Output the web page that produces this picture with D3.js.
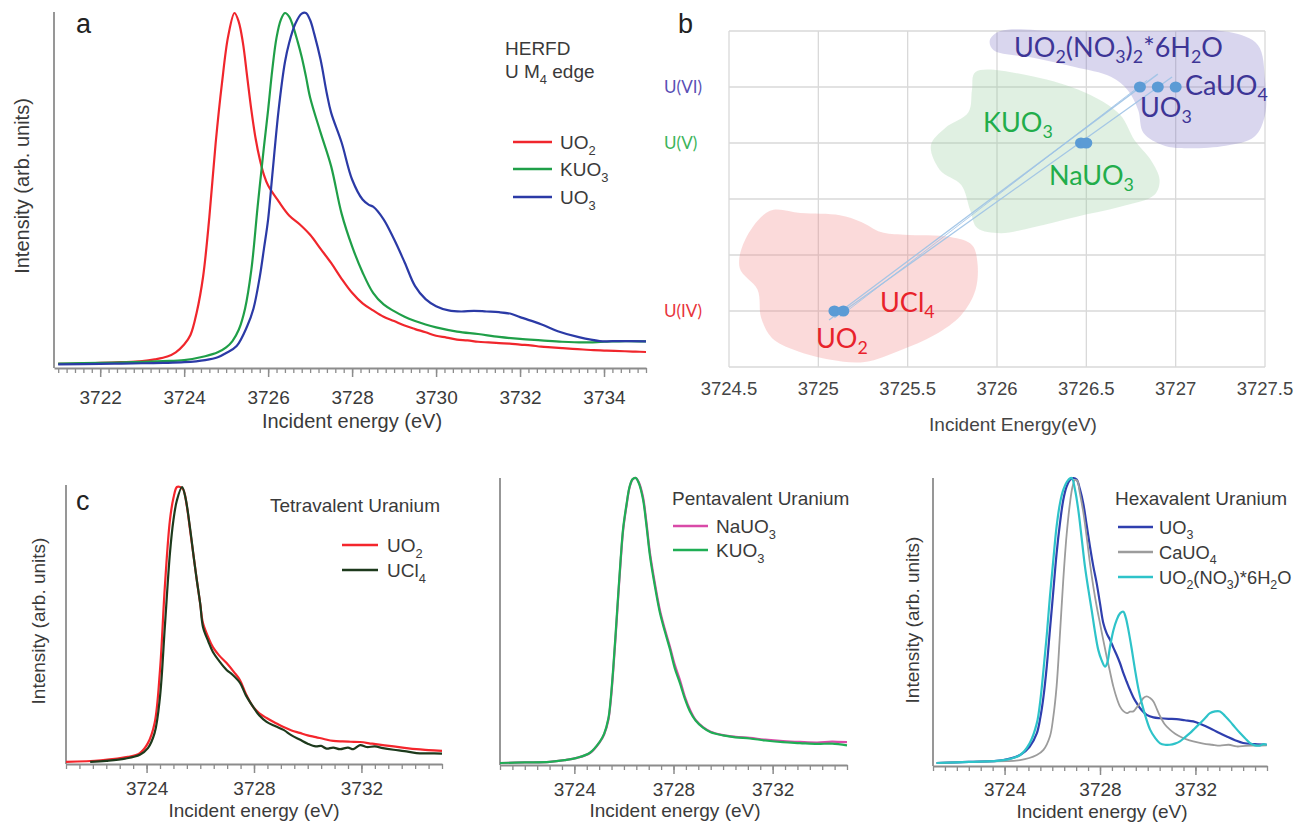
<!DOCTYPE html>
<html><head><meta charset="utf-8">
<script src="https://cdnjs.cloudflare.com/ajax/libs/d3/7.8.5/d3.min.js"></script>
<style>
body{margin:0;background:#fff}
svg{display:block}
text{font-family:"Liberation Sans",Arial,sans-serif}
</style>
</head><body><script>
// ---------- Panel a: HERFD U M4 edge spectra (energy eV, normalised intensity) ----------
const aUO2 = [[3721.0,0.003],[3721.5,0.004],[3722.0,0.006],[3722.5,0.008],[3723.0,0.011],[3723.3,0.016],[3723.6,0.024],[3723.8,0.036],[3724.0,0.058],[3724.15,0.085],[3724.3,0.15],[3724.45,0.25],[3724.6,0.42],[3724.75,0.63],[3724.9,0.8],[3725.05,0.935],[3725.2,1.0],[3725.3,0.975],[3725.4,0.915],[3725.5,0.82],[3725.6,0.725],[3725.7,0.645],[3725.8,0.585],[3725.9,0.54],[3726.0,0.51],[3726.25,0.465],[3726.5,0.425],[3726.75,0.4],[3727.0,0.37],[3727.25,0.33],[3727.5,0.29],[3727.75,0.245],[3728.0,0.205],[3728.25,0.175],[3728.5,0.155],[3728.75,0.137],[3729.0,0.125],[3729.25,0.112],[3729.5,0.102],[3729.75,0.093],[3730.0,0.083],[3730.25,0.078],[3730.5,0.072],[3730.75,0.07],[3731.0,0.066],[3731.25,0.064],[3731.5,0.062],[3731.75,0.061],[3732.0,0.058],[3732.25,0.056],[3732.5,0.052],[3732.75,0.05],[3733.0,0.048],[3733.25,0.046],[3733.5,0.044],[3733.75,0.042],[3734.0,0.041],[3734.25,0.04],[3734.5,0.039],[3734.75,0.038],[3735.0,0.037]];
const aKUO3 = [[3721.0,0.004],[3722.0,0.006],[3723.0,0.009],[3723.5,0.011],[3724.0,0.014],[3724.5,0.025],[3724.8,0.036],[3725.0,0.05],[3725.15,0.068],[3725.3,0.1],[3725.45,0.16],[3725.6,0.27],[3725.75,0.45],[3725.9,0.62],[3726.0,0.725],[3726.1,0.84],[3726.2,0.93],[3726.3,0.98],[3726.4,1.0],[3726.5,0.99],[3726.6,0.96],[3726.7,0.92],[3726.8,0.875],[3726.9,0.82],[3727.0,0.76],[3727.25,0.66],[3727.5,0.565],[3727.75,0.43],[3728.0,0.337],[3728.25,0.263],[3728.5,0.205],[3728.75,0.172],[3729.0,0.153],[3729.25,0.137],[3729.5,0.125],[3729.75,0.115],[3730.0,0.107],[3730.5,0.095],[3731.0,0.088],[3731.5,0.08],[3732.0,0.074],[3732.5,0.07],[3733.0,0.066],[3733.5,0.064],[3734.0,0.066],[3734.5,0.068],[3735.0,0.067]];
const aUO3 = [[3721.0,0.002],[3722.0,0.003],[3722.5,0.004],[3723.0,0.005],[3723.5,0.006],[3724.0,0.008],[3724.5,0.014],[3724.8,0.022],[3725.0,0.034],[3725.25,0.054],[3725.5,0.11],[3725.65,0.16],[3725.8,0.25],[3725.9,0.33],[3726.0,0.414],[3726.1,0.54],[3726.25,0.725],[3726.4,0.86],[3726.5,0.915],[3726.65,0.97],[3726.8,0.998],[3726.9,1.0],[3727.0,0.98],[3727.1,0.94],[3727.25,0.867],[3727.4,0.77],[3727.5,0.717],[3727.75,0.632],[3728.0,0.527],[3728.25,0.47],[3728.4,0.455],[3728.5,0.45],[3728.75,0.414],[3729.0,0.357],[3729.25,0.292],[3729.5,0.224],[3729.75,0.187],[3730.0,0.167],[3730.3,0.155],[3730.6,0.152],[3730.9,0.154],[3731.2,0.152],[3731.5,0.15],[3731.8,0.145],[3732.0,0.136],[3732.5,0.116],[3732.9,0.096],[3733.4,0.079],[3733.9,0.068],[3734.4,0.068],[3735.0,0.067]];
const aLegend = ["UO_2","KUO_3","UO_3"];
const aTicks = [3722,3724,3726,3728,3730,3732,3734];

// ---------- Panel b: edge position vs oxidation state ----------
const bCompounds = ["UO_2","UCl_4","NaUO_3","KUO_3","UO_2(NO_3)_2*6H_2O","UO_3","CaUO_4"];
const bEnergy = [3725.09,3725.14,3726.47,3726.5,3726.8,3726.9,3727.0];
const bLevel = [1,1,4,4,5,5,5];
const bLevelTicks = [1,4,5];
const bLevelNames = ["U(IV)","U(V)","U(VI)"];
const bEnergyTicks = [3724.5,3725,3725.5,3726,3726.5,3727,3727.5];
// fitted trend lines: [startEnergy, startLevel, endEnergy, endLevel]
const bTrends = [[3725.06,0.84,3726.9,5.23],[3725.09,0.88,3726.98,5.18],[3725.12,0.9,3726.84,5.12]];
// shaded groupings (energy, level outline)
const bRegionVI = [[3725.96,5.84],[3726.02,6.0],[3726.35,6.0],[3726.86,6.0],[3727.3,5.98],[3727.46,5.75],[3727.5,5.13],[3727.5,4.5],[3727.44,4.11],[3727.28,3.95],[3727.02,3.91],[3726.93,3.96],[3726.82,4.18],[3726.79,4.59],[3726.73,4.95],[3726.64,5.18],[3726.43,5.36],[3726.21,5.52],[3725.98,5.66]];
const bRegionV = [[3725.88,5.27],[3726.24,5.16],[3726.52,4.86],[3726.69,4.5],[3726.77,4.05],[3726.86,3.7],[3726.91,3.34],[3726.88,3.07],[3726.69,2.86],[3726.44,2.68],[3726.21,2.5],[3726.02,2.39],[3725.89,2.48],[3725.85,2.8],[3725.8,3.25],[3725.68,3.52],[3725.63,3.96],[3725.71,4.27],[3725.84,4.55],[3725.86,4.95]];
const bRegionIV = [[3724.73,2.79],[3724.9,2.75],[3725.12,2.71],[3725.24,2.59],[3725.35,2.41],[3725.48,2.36],[3725.74,2.32],[3725.86,2.18],[3725.89,1.88],[3725.88,1.38],[3725.8,0.93],[3725.65,0.57],[3725.46,0.3],[3725.26,0.09],[3725.07,0.13],[3724.87,0.3],[3724.74,0.52],[3724.68,0.88],[3724.66,1.38],[3724.56,1.77],[3724.59,2.27]];

// ---------- Panel c: spectra grouped by valence ----------
const cTicks = [3724,3728,3732];
const c1UO2 = [[3721.0,0.004],[3722.3,0.01],[3723.3,0.022],[3723.75,0.036],[3724.05,0.072],[3724.3,0.145],[3724.5,0.337],[3724.68,0.638],[3724.87,0.88],[3725.0,0.96],[3725.13,1.0],[3725.25,1.0],[3725.37,0.99],[3725.5,0.93],[3725.62,0.844],[3725.75,0.75],[3725.87,0.663],[3726.0,0.575],[3726.1,0.507],[3726.3,0.455],[3726.47,0.42],[3726.7,0.39],[3726.98,0.362],[3727.25,0.33],[3727.48,0.3],[3727.7,0.25],[3727.97,0.203],[3728.2,0.18],[3728.47,0.163],[3728.8,0.145],[3729.1,0.13],[3729.4,0.118],[3729.7,0.109],[3730.0,0.1],[3730.3,0.094],[3730.6,0.087],[3730.95,0.08],[3731.3,0.078],[3731.6,0.077],[3731.95,0.076],[3732.4,0.07],[3732.8,0.065],[3733.2,0.06],[3733.6,0.055],[3734.05,0.05],[3734.5,0.047],[3735.0,0.044]];
const c1UCl4 = [[3721.9,0.004],[3722.5,0.008],[3723.2,0.016],[3723.75,0.03],[3724.05,0.054],[3724.3,0.109],[3724.5,0.24],[3724.68,0.493],[3724.87,0.76],[3725.0,0.88],[3725.13,0.952],[3725.32,1.0],[3725.45,0.96],[3725.62,0.85],[3725.75,0.75],[3725.87,0.663],[3726.0,0.575],[3726.1,0.493],[3726.3,0.44],[3726.47,0.402],[3726.7,0.37],[3726.98,0.337],[3727.2,0.32],[3727.48,0.29],[3727.7,0.245],[3727.97,0.203],[3728.2,0.172],[3728.47,0.149],[3728.8,0.133],[3729.1,0.12],[3729.4,0.1],[3729.7,0.085],[3730.0,0.07],[3730.3,0.06],[3730.5,0.062],[3730.7,0.052],[3730.95,0.056],[3731.2,0.05],[3731.5,0.056],[3731.7,0.05],[3731.95,0.065],[3732.2,0.058],[3732.5,0.06],[3732.8,0.054],[3733.2,0.048],[3733.6,0.043],[3734.05,0.036],[3734.5,0.035],[3735.0,0.034]];
const c2NaUO3 = [[3721.0,0.0],[3722.0,0.002],[3723.0,0.004],[3723.6,0.01],[3724.1,0.018],[3724.63,0.035],[3725.03,0.074],[3725.2,0.1],[3725.37,0.15],[3725.47,0.22],[3725.57,0.326],[3725.67,0.45],[3725.77,0.583],[3725.87,0.71],[3725.97,0.818],[3726.1,0.9],[3726.23,0.968],[3726.35,0.995],[3726.48,1.0],[3726.6,0.985],[3726.77,0.933],[3726.9,0.85],[3727.05,0.737],[3727.25,0.63],[3727.45,0.537],[3727.65,0.47],[3727.86,0.407],[3728.05,0.345],[3728.26,0.291],[3728.45,0.235],[3728.67,0.186],[3728.9,0.15],[3729.19,0.126],[3729.5,0.11],[3730.0,0.098],[3730.5,0.092],[3731.08,0.088],[3731.7,0.082],[3732.42,0.077],[3733.1,0.074],[3733.8,0.072],[3734.4,0.075],[3735.0,0.073]];
const c2KUO3 = [[3721.0,0.0],[3722.0,0.002],[3723.0,0.004],[3723.6,0.01],[3724.1,0.018],[3724.63,0.036],[3725.03,0.075],[3725.2,0.102],[3725.37,0.155],[3725.47,0.228],[3725.57,0.335],[3725.67,0.46],[3725.77,0.592],[3725.87,0.718],[3725.97,0.825],[3726.1,0.905],[3726.23,0.97],[3726.35,0.996],[3726.48,1.0],[3726.6,0.982],[3726.77,0.925],[3726.9,0.84],[3727.05,0.727],[3727.25,0.62],[3727.45,0.528],[3727.65,0.462],[3727.86,0.398],[3728.05,0.333],[3728.26,0.28],[3728.45,0.228],[3728.67,0.18],[3728.9,0.148],[3729.19,0.124],[3729.5,0.108],[3730.0,0.097],[3730.5,0.09],[3731.08,0.086],[3731.7,0.079],[3732.42,0.073],[3733.1,0.07],[3733.8,0.067],[3734.4,0.068],[3735.0,0.062]];
const c3UO3 = [[3721.15,0.0],[3722.5,0.004],[3723.95,0.01],[3724.65,0.028],[3725.05,0.057],[3725.35,0.104],[3725.5,0.16],[3725.63,0.232],[3725.77,0.34],[3725.9,0.466],[3726.04,0.6],[3726.18,0.735],[3726.32,0.84],[3726.46,0.923],[3726.6,0.97],[3726.74,0.993],[3726.88,1.0],[3727.02,0.995],[3727.16,0.96],[3727.3,0.91],[3727.44,0.835],[3727.58,0.759],[3727.72,0.69],[3727.86,0.631],[3728.0,0.56],[3728.14,0.49],[3728.28,0.455],[3728.42,0.432],[3728.56,0.405],[3728.7,0.379],[3728.84,0.35],[3728.98,0.315],[3729.12,0.285],[3729.26,0.256],[3729.4,0.23],[3729.54,0.21],[3729.75,0.185],[3729.96,0.169],[3730.24,0.16],[3730.52,0.157],[3730.87,0.155],[3731.21,0.154],[3731.56,0.15],[3731.91,0.146],[3732.26,0.135],[3732.61,0.122],[3732.96,0.107],[3733.31,0.093],[3733.66,0.08],[3734.0,0.07],[3734.5,0.066],[3734.99,0.064]];
const c3CaUO4 = [[3721.15,0.0],[3723.0,0.005],[3724.65,0.01],[3725.35,0.028],[3725.63,0.046],[3725.9,0.093],[3726.04,0.16],[3726.18,0.268],[3726.32,0.45],[3726.46,0.642],[3726.6,0.8],[3726.74,0.911],[3726.85,0.97],[3726.95,0.993],[3727.05,0.99],[3727.15,0.95],[3727.3,0.88],[3727.44,0.794],[3727.58,0.7],[3727.72,0.619],[3727.86,0.55],[3728.0,0.49],[3728.14,0.43],[3728.28,0.373],[3728.42,0.32],[3728.56,0.268],[3728.7,0.228],[3728.84,0.198],[3728.98,0.182],[3729.12,0.175],[3729.26,0.18],[3729.4,0.181],[3729.54,0.195],[3729.68,0.21],[3729.82,0.228],[3729.96,0.234],[3730.1,0.228],[3730.24,0.216],[3730.38,0.19],[3730.52,0.164],[3730.72,0.135],[3730.93,0.117],[3731.15,0.103],[3731.35,0.093],[3731.63,0.083],[3731.91,0.076],[3732.33,0.068],[3732.7,0.064],[3733.03,0.061],[3733.4,0.064],[3733.73,0.058],[3734.1,0.06],[3734.5,0.061],[3734.99,0.062]];
const c3UO2NO3 = [[3721.15,0.0],[3722.5,0.004],[3723.95,0.01],[3724.65,0.028],[3725.05,0.069],[3725.35,0.139],[3725.5,0.22],[3725.63,0.326],[3725.77,0.45],[3725.9,0.583],[3726.04,0.71],[3726.18,0.829],[3726.32,0.91],[3726.46,0.958],[3726.64,0.99],[3726.81,1.0],[3726.95,0.96],[3727.09,0.888],[3727.23,0.79],[3727.37,0.689],[3727.51,0.61],[3727.65,0.537],[3727.79,0.46],[3727.93,0.396],[3728.07,0.36],[3728.21,0.338],[3728.3,0.35],[3728.42,0.408],[3728.56,0.465],[3728.7,0.502],[3728.84,0.525],[3728.98,0.531],[3729.08,0.51],[3729.19,0.467],[3729.33,0.4],[3729.47,0.326],[3729.61,0.26],[3729.75,0.21],[3729.92,0.16],[3730.1,0.117],[3730.31,0.088],[3730.52,0.069],[3730.72,0.064],[3730.93,0.064],[3731.14,0.068],[3731.35,0.076],[3731.56,0.09],[3731.77,0.105],[3731.98,0.122],[3732.19,0.139],[3732.4,0.157],[3732.61,0.175],[3732.82,0.181],[3733.03,0.181],[3733.24,0.165],[3733.45,0.146],[3733.66,0.125],[3733.87,0.105],[3734.08,0.087],[3734.29,0.07],[3734.5,0.062],[3734.7,0.061],[3734.85,0.066],[3734.99,0.064]];

const INK = "#3a3a3a", AXIS = "#8c8c8c";
const svg = d3.select("body").append("svg").attr("width",1296).attr("height",824);

// chemical formula text: "_x" marks a subscript character
function rich(t, s, fs, sub=0.68, drop=0.3){
  const sh = fs*drop; let i = 0, low = false;
  while(i < s.length){
    if(s[i] === "_"){
      t.append("tspan").attr("font-size", fs*sub).attr("dy", low ? 0 : sh).text(s[i+1]);
      low = true; i += 2;
    } else {
      let j = i; while(j < s.length && s[j] !== "_") j++;
      t.append("tspan").attr("dy", low ? -sh : 0).text(s.slice(i,j));
      low = false; i = j;
    }
  }
  return t;
}
function label(g, x, y, s, fs, opts={}){
  const t = g.append("text").attr("x",x).attr("y",y).attr("font-size",fs)
    .attr("fill",opts.fill||INK).attr("text-anchor",opts.anchor||"start");
  if(opts.family) t.style("font-family", opts.family);
  return rich(t, s, fs, opts.sub, opts.drop);
}

function spectrumPanel(o){
  const g = svg.append("g");
  const x = d3.scaleLinear().domain(o.xDomain).range(o.xRange);
  const y = d3.scaleLinear().domain([0,1]).range(o.yRange);
  const minor = g.append("g").attr("transform",`translate(0,${o.axisY})`)
    .call(d3.axisBottom(x).tickValues(o.minor).tickSize(o.minorLen).tickSizeOuter(0).tickFormat(""));
  minor.select(".domain").remove();
  minor.selectAll("line").attr("stroke",AXIS).attr("stroke-width",1.3);
  const major = g.append("g").attr("transform",`translate(0,${o.axisY})`)
    .call(d3.axisBottom(x).tickValues(o.ticks).tickSize(o.majorLen).tickSizeOuter(0).tickPadding(o.pad).tickFormat(d3.format("d")));
  major.select(".domain").attr("stroke",AXIS).attr("stroke-width",1.8);
  major.selectAll("line").attr("stroke",AXIS).attr("stroke-width",1.5);
  major.selectAll("text").attr("font-size",o.tickFs).attr("fill",INK)
    .style("font-family","'Liberation Sans',Arial,sans-serif");
  g.append("line").attr("x1",o.xRange[0]).attr("x2",o.xRange[0]).attr("y1",o.yTop).attr("y2",o.axisY)
    .attr("stroke",AXIS).attr("stroke-width",1.8);
  const line = d3.line().x(d=>x(d[0])).y(d=>y(d[1])).curve(d3.curveCatmullRom.alpha(0.5));
  o.series.forEach(s=>{
    g.append("path").datum(s.data).attr("d",line).attr("fill","none")
      .attr("stroke",s.color).attr("stroke-width",s.w||2.2).attr("stroke-linejoin","round");
  });
  // legend
  o.series.forEach((s,i)=>{
    const ly = o.legend.y[i];
    g.append("line").attr("x1",o.legend.x0).attr("x2",o.legend.x1).attr("y1",ly).attr("y2",ly)
      .attr("stroke",s.color).attr("stroke-width",s.lw||2.6);
    label(g, o.legend.tx, ly+7, s.name, o.legend.fs);
  });
  if(o.xLabel) g.append("text").attr("x",o.xLabel[0]).attr("y",o.xLabel[1]).attr("text-anchor","middle")
    .attr("font-size",o.xLabel[2]).attr("fill",INK).text("Incident energy (eV)");
  if(o.yLabel) g.append("text").attr("transform",`translate(${o.yLabel[0]},${o.yLabel[1]}) rotate(-90)`)
    .attr("text-anchor","middle").attr("dy","0.35em").attr("font-size",o.yLabel[2]).attr("fill",INK)
    .text("Intensity (arb. units)");
  return g;
}

// ---- panel a ----
const pa = spectrumPanel({
  xDomain:[3720.9,3735], xRange:[54,646], yRange:[365,13], axisY:368, yTop:12,
  ticks:aTicks, minor:d3.range(3721,3735.01,0.2), majorLen:9, minorLen:5, pad:14, tickFs:19,
  series:[{name:aLegend[0],data:aUO2,color:"#f0262c"},{name:aLegend[1],data:aKUO3,color:"#1f9f48"},{name:aLegend[2],data:aUO3,color:"#2b3aa6"}],
  legend:{x0:513,x1:552,tx:560,y:[142,169,197],fs:19},
  xLabel:[352,428,20], yLabel:[22,186,20]
});
pa.append("text").attr("x",76).attr("y",33).attr("font-size",27).attr("fill","#222").text("a");
label(pa, 505, 55, "HERFD", 19);
label(pa, 505, 78, "U M_4 edge", 19);

// ---- panel b ----
const pb = svg.append("g");
const bx = d3.scaleLinear().domain([3724.5,3727.5]).range([729,1265]);
const by = d3.scaleLinear().domain([0,6]).range([367,31]);
bEnergyTicks.forEach(v=>pb.append("line").attr("x1",bx(v)).attr("x2",bx(v)).attr("y1",by(0)).attr("y2",by(6))
  .attr("stroke","#d9d9d9").attr("stroke-width",1.3));
d3.range(0,7).forEach(v=>pb.append("line").attr("x1",bx(3724.5)).attr("x2",bx(3727.5)).attr("y1",by(v)).attr("y2",by(v))
  .attr("stroke","#d9d9d9").attr("stroke-width",1.3));
const blob = d3.line().x(d=>bx(d[0])).y(d=>by(d[1])).curve(d3.curveCatmullRomClosed.alpha(0.5));
[[bRegionIV,"rgb(242,132,132)"],[bRegionV,"rgb(152,205,159)"],[bRegionVI,"rgb(128,118,198)"]].forEach(([r,c])=>
  pb.append("path").datum(r).attr("d",blob).attr("fill",c).attr("fill-opacity",0.3));
bTrends.forEach((t,i)=>pb.append("line").attr("x1",bx(t[0])).attr("y1",by(t[1])).attr("x2",bx(t[2])).attr("y2",by(t[3]))
  .attr("stroke","#9ec3e6").attr("stroke-width",i===2?0.9:1.3).attr("opacity",0.9));
bEnergy.forEach((e,i)=>pb.append("ellipse").attr("cx",bx(e)).attr("cy",by(bLevel[i])).attr("rx",6).attr("ry",5.5).attr("fill","#5b9bd5"));
bEnergyTicks.forEach(v=>pb.append("text").attr("x",bx(v)).attr("y",395).attr("text-anchor","middle")
  .attr("font-size",18.5).attr("fill","#444").text(d3.format("")(v)));
pb.append("text").attr("x",1013).attr("y",431).attr("text-anchor","middle").attr("font-size",19).attr("fill","#444").text("Incident Energy(eV)");
const levelColors = ["#e8343c","#3cb45a","#5a4fb5"];
bLevelTicks.forEach((v,i)=>pb.append("text").attr("x",664).attr("y",by(v)+6).attr("font-size",17)
  .attr("fill",levelColors[i]).style("font-family","Lato,sans-serif").text(bLevelNames[i]));
pb.append("text").attr("x",678).attr("y",33).attr("font-size",27).attr("fill","#222").text("b");
// compound names: [index, x, baseline, colour]
const PUR="#3d3596", GRN="#22ad4b", RED="#e8222b";
const bNamePos = [[0,816,348,RED],[1,880,312,RED],[2,1049,185,GRN],[3,983,132,GRN],[4,1014,57,PUR],[5,1140,117,PUR],[6,1185,95,PUR]];
bNamePos.forEach(([i,x,yb,c])=>label(pb,x,yb,bCompounds[i],27,{fill:c,family:"Lato,sans-serif",sub:0.66,drop:0.24}));

// ---- panel c ----
const pc1 = spectrumPanel({
  xDomain:[3721,3735], xRange:[66,442], yRange:[763,487], axisY:764, yTop:485,
  ticks:cTicks, minor:d3.range(3721,3735.01,0.5), majorLen:9, minorLen:5, pad:9, tickFs:19,
  series:[{name:"UO_2",data:c1UO2,color:"#f4262c"},{name:"UCl_4",data:c1UCl4,color:"#1d3a1c"}],
  legend:{x0:342,x1:378,tx:387,y:[545,570],fs:19},
  xLabel:[254,817,19], yLabel:[38,621,19]
});
pc1.append("text").attr("x",76).attr("y",510).attr("font-size",27).attr("fill","#222").text("c");
pc1.append("text").attr("x",440).attr("y",512).attr("text-anchor","end").attr("font-size",19).attr("fill",INK).text("Tetravalent Uranium");

const pc2 = spectrumPanel({
  xDomain:[3721,3735], xRange:[500,847], yRange:[763,478], axisY:765, yTop:478,
  ticks:cTicks, minor:d3.range(3721,3735.01,0.5), majorLen:9, minorLen:5, pad:9, tickFs:19,
  series:[{name:"NaUO_3",data:c2NaUO3,color:"#d94aa8"},{name:"KUO_3",data:c2KUO3,color:"#1fae55"}],
  legend:{x0:673,x1:708,tx:716,y:[526,550],fs:19},
  xLabel:[675,817,19]
});
pc2.append("text").attr("x",672).attr("y",505).attr("font-size",19).attr("fill",INK).text("Pentavalent Uranium");

const pc3 = spectrumPanel({
  xDomain:[3721,3735], xRange:[933,1267], yRange:[763,478], axisY:766, yTop:478,
  ticks:cTicks, minor:d3.range(3721,3735.01,0.5), majorLen:9, minorLen:5, pad:8, tickFs:19,
  series:[{name:"UO_3",data:c3UO3,color:"#2f3fae"},{name:"CaUO_4",data:c3CaUO4,color:"#9c9c9c",w:1.8},{name:"UO_2(NO_3)*6H_2O",data:c3UO2NO3,color:"#2ec3c9"}],
  legend:{x0:1118,x1:1153,tx:1159,y:[527,552,577],fs:18.3},
  xLabel:[1102,818,19], yLabel:[912,620,19]
});
pc3.append("text").attr("x",1115).attr("y",505).attr("font-size",19).attr("fill",INK).text("Hexavalent Uranium");
</script></body></html>
